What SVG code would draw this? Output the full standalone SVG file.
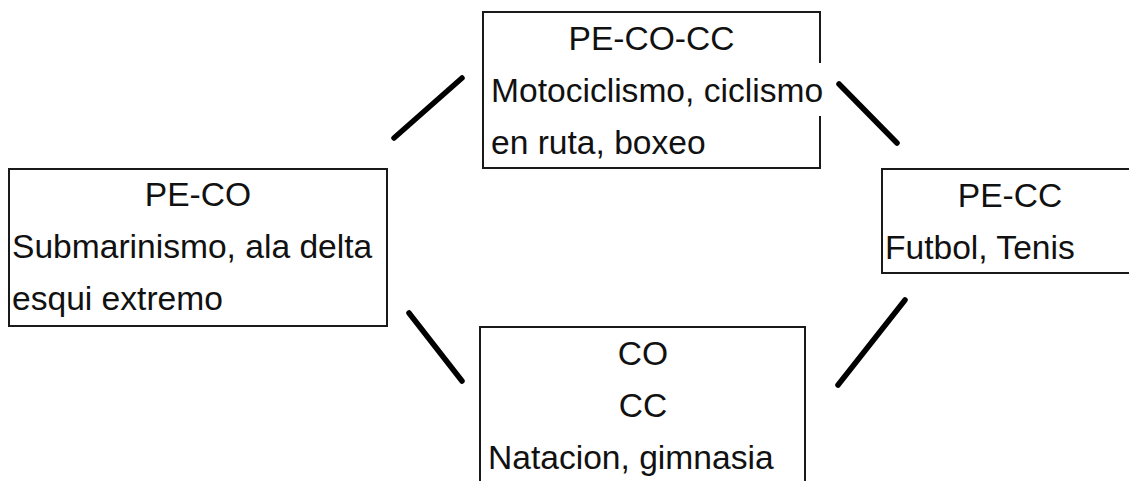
<svg xmlns="http://www.w3.org/2000/svg" width="1129" height="481" viewBox="0 0 1129 481">
<style>
.box{fill:#fff;stroke:#1a1a1a;stroke-width:2}
.t{font-family:"Liberation Sans",Arial,sans-serif;font-size:33.6px;fill:#111}
.c{text-anchor:middle}
.conn{stroke:#000;stroke-width:5.5;stroke-linecap:round;fill:none}
</style>
<rect width="1129" height="481" fill="#fff"/>
<g id="connectors">
<line class="conn" x1="394" y1="138" x2="462" y2="78"/>
<line class="conn" x1="839" y1="84" x2="897" y2="143"/>
<line class="conn" x1="409" y1="313" x2="462" y2="381"/>
<line class="conn" x1="838" y1="385" x2="905" y2="300"/>
</g>
<g id="node-pe-co-cc">
<rect class="box" x="483" y="12" width="337" height="156"/>
<rect x="816" y="63" width="8" height="53" fill="#fff"/>
<text class="t c" x="651.5" y="50">PE-CO-CC</text>
<text class="t" x="491" y="102">Motociclismo, ciclismo</text>
<text class="t" x="491" y="154">en ruta, boxeo</text>
</g>
<g id="node-pe-co">
<rect class="box" x="9" y="169" width="378" height="157"/>
<text class="t c" x="198" y="206">PE-CO</text>
<text class="t" x="12" y="258">Submarinismo, ala delta</text>
<text class="t" x="12" y="310">esqui extremo</text>
</g>
<g id="node-pe-cc">
<rect class="box" x="882" y="169" width="260" height="104"/>
<text class="t c" x="1010" y="207">PE-CC</text>
<text class="t" x="885" y="259">Futbol, Tenis</text>
</g>
<g id="node-co-cc">
<rect class="box" x="480" y="327" width="325" height="170"/>
<text class="t c" x="643" y="365">CO</text>
<text class="t c" x="643" y="417">CC</text>
<text class="t" x="488" y="469">Natacion, gimnasia</text>
</g>
</svg>
